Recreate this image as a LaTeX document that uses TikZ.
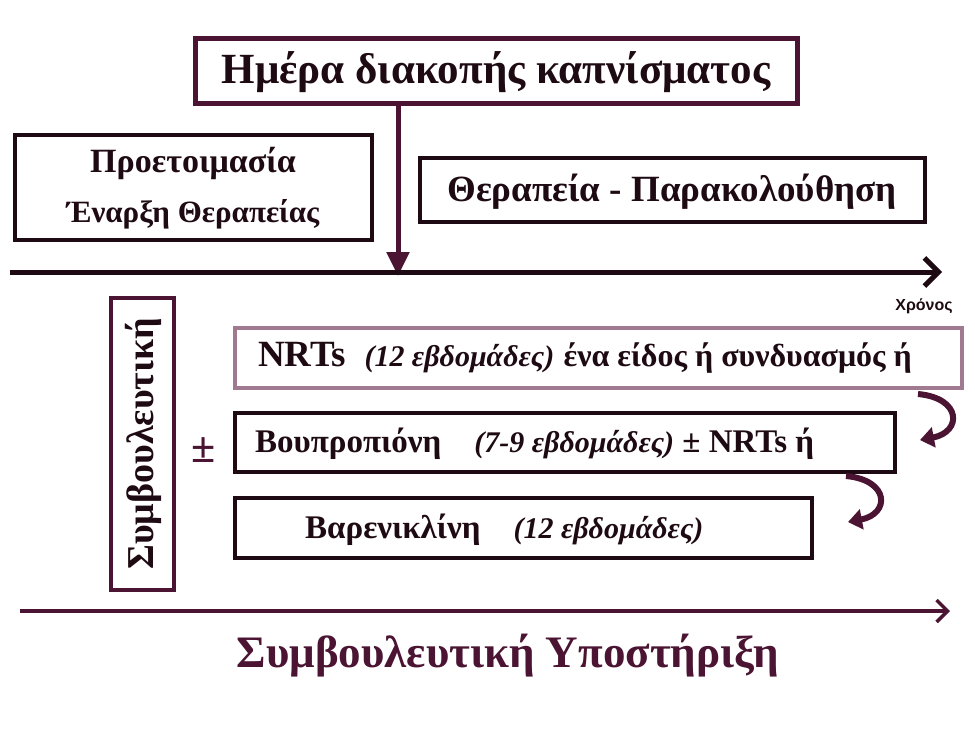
\documentclass[tikz,border=0pt]{standalone}
\usepackage{fontspec}
\setmainfont{Liberation Serif}
\newfontfamily\axisfont{Liberation Sans}
\usetikzlibrary{arrows.meta}
\definecolor{maroon}{HTML}{4A1432}
\definecolor{mauve}{HTML}{A07A90}
\definecolor{dark}{HTML}{1E0A12}
\newcommand\myit{\bfseries\itshape\fontsize{30}{34}\selectfont}
\tikzset{
  bx/.style={draw=dark,line width=3.5pt,fill=white},
  txt/.style={font=\bfseries\fontsize{34}{38}\selectfont,text=dark},
}
\begin{document}
\begin{tikzpicture}[x=1pt,y=-1pt]
\useasboundingbox (0,0) rectangle (975,732);
% top box
\draw[draw=maroon,line width=5pt,fill=white] (195,38) rectangle (797,103);
\node[txt,font=\bfseries\fontsize{43}{46}\selectfont] (top) at (496,72) {Ημέρα διακοπής καπνίσματος};
\coordinate (tb) at (398,105);
\coordinate (te) at (398,276);
\draw[maroon,line width=5pt,-{Triangle[length=24pt,width=22pt]}] (tb) -- (te);
% left box
\draw[bx] (15,135) rectangle (372,240);
\node[txt] (prep) at (193,163) {Προετοιμασία};
\node[txt,font=\bfseries\fontsize{31}{34}\selectfont] (start) at (193,214) {Έναρξη Θεραπείας};
% right box
\draw[bx] (420,158) rectangle (925,222);
\node[txt,font=\bfseries\fontsize{37}{40}\selectfont] (ther) at (672,192) {Θεραπεία - Παρακολούθηση};
% time axis
\coordinate (a0) at (10,272);
\coordinate (a1) at (942,272);
\draw[dark,line width=5pt,-{Straight Barb[length=14pt,width=28pt,line width=5pt]}] (a0) -- (a1);
\node[font=\axisfont\bfseries\fontsize{16}{18}\selectfont,text=dark] (chr) at (924,306) {Χρόνος};
% vertical box
\draw[draw=maroon,line width=4.5pt,fill=white] (111,298) rectangle (174,590);
\node[txt,font=\bfseries\fontsize{38}{40}\selectfont,rotate=90] (symv) at (143,444) {Συμβουλευτική};
\node[font=\bfseries\fontsize{44}{46}\selectfont,text=maroon] (pm) at (204,450) {\textbf{±}};
% drug boxes
\draw[draw=mauve,line width=4pt,fill=white] (235,328) rectangle (962,388);
\node[anchor=west,inner sep=0,text=dark] (nrt) at (258,358) {\fontsize{37}{40}\selectfont\bfseries NRTs\ \ {\myit (12 εβδομάδες)} {\fontsize{32}{34}\selectfont ένα είδος ή συνδυασμός ή}};
\draw[bx] (235,413) rectangle (895,472);
\node[anchor=west,inner sep=0,text=dark] (bup) at (255,444) {\fontsize{33}{36}\selectfont\bfseries Βουπροπιόνη\quad {\myit (7-9 εβδομάδες)} ± NRTs ή};
\draw[bx] (235,498) rectangle (812,558);
\node[anchor=west,inner sep=0,text=dark] (var) at (305,530) {\fontsize{33}{36}\selectfont\bfseries Βαρενικλίνη\quad {\myit (12 εβδομάδες)}};
% curved arrows
\coordinate (c1s) at (918,394);
\coordinate (c1e) at (920,440);
\draw[maroon,line width=6pt,-{Triangle[length=14pt,width=20pt]}] (c1s) .. controls (962,398) and (962,432) .. (c1e);
\coordinate (c2s) at (846,476);
\coordinate (c2e) at (848,522);
\draw[maroon,line width=6pt,-{Triangle[length=14pt,width=20pt]}] (c2s) .. controls (890,480) and (890,514) .. (c2e);
% bottom arrow
\coordinate (b0) at (20,611);
\coordinate (b1) at (950,611);
\draw[maroon,line width=3.5pt,-{Straight Barb[length=11pt,width=22pt,line width=3.5pt]}] (b0) -- (b1);
\node[font=\bfseries\fontsize{45}{48}\selectfont,text=maroon] (supp) at (508,656) {Συμβουλευτική Υποστήριξη};
\end{tikzpicture}
\end{document}
